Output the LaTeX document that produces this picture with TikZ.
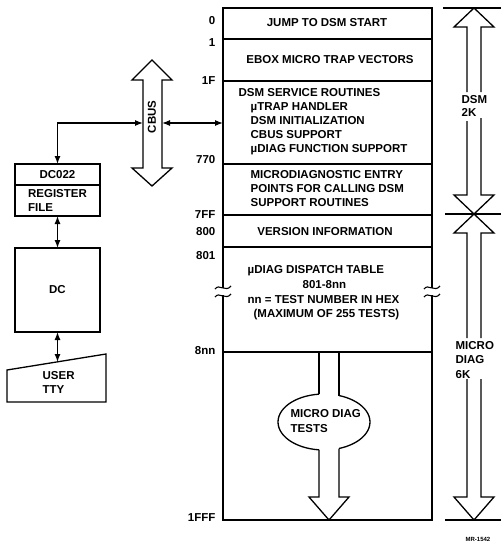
\documentclass[tikz,border=0pt]{standalone}
\usepackage{fontspec}
\setmainfont{Liberation Sans}
\usepackage{tikz}
\usetikzlibrary{arrows.meta,positioning}

\tikzset{
  txt/.style={font=\bfseries\fontsize{11.5}{14}\selectfont, inner sep=0pt},
  addr/.style={txt, anchor=east},
  box/.style={draw, line width=1.3pt, minimum width=85pt, inner sep=0pt, outer sep=0pt, txt},
  conn/.style={line width=1.2pt, {Latex[length=8pt,width=6pt]}-{Latex[length=8pt,width=6pt]}},
}

\begin{document}
\begin{tikzpicture}[x=1pt,y=-1pt,line width=1.3pt]
        \useasboundingbox (0,0) rectangle (501,542);
        \coordinate (m1) at (223,8);
        \coordinate (m2) at (432,8);
        \coordinate (m3) at (432,520);
        \coordinate (m4) at (223,520);
        \coordinate (corner) at (57.5,123);
        \coordinate (busL) at (143,123);
        \coordinate (busR) at (162,123);
        \coordinate (mapL) at (223,123);
        \coordinate (t1) at (7,370);
        \coordinate (t2) at (106,354);
        \coordinate (t3) at (106,402);
        \coordinate (t4) at (7,402);
        \coordinate (ttytop) at (57.5,362);
        %Memory map
        \draw (223,288) -- (m1) -- (m2) -- (432,288);
        \draw (223,295) -- (m4) -- (m3) -- (432,295);
        \foreach \y in {39,81,164,215,247,352}
          \draw (223,\y) -- (432,\y);
        \foreach \x in {223,432} {
          \draw[line width=1.1pt] (\x-8,289) .. controls (\x-4,283) and (\x+3,293) .. (\x+8,286);
          \draw[line width=1.1pt] (\x-8,297) .. controls (\x-4,291) and (\x+3,301) .. (\x+8,294);
        }
        %Addresses
        \node[addr] (a0) at (216,21) {0};
        \node[addr] (a1) at (216,43) {1};
        \node[addr] (a1f) at (216,81) {1F};
        \node[addr] (a770) at (216,160) {770};
        \node[addr] (a7ff) at (216,215) {7FF};
        \node[addr] (a800) at (216,232) {800};
        \node[addr] (a801) at (216,256) {801};
        \node[addr] (a8nn) at (216,351) {8nn};
        \node[addr] (a1fff) at (216,518) {1FFF};
        %Contents
        \node[txt] (jump) at (327,23) {JUMP TO DSM START};
        \node[txt] (ebox) at (330,60) {EBOX MICRO TRAP VECTORS};
        \node[txt, anchor=west, align=left] (dsmsvc) at (238,122) {DSM SERVICE ROUTINES\\
          \hspace*{12pt}µTRAP HANDLER\\\hspace*{12pt}DSM INITIALIZATION\\
          \hspace*{12pt}CBUS SUPPORT\\\hspace*{12pt}µDIAG FUNCTION SUPPORT};
        \node[txt, anchor=west, align=left] (entry) at (250,189) {MICRODIAGNOSTIC ENTRY\\
          POINTS FOR CALLING DSM\\SUPPORT ROUTINES};
        \node[txt] (version) at (325,232) {VERSION INFORMATION};
        \node[txt, font=\bfseries\fontsize{11.5}{14.7}\selectfont, anchor=west, align=left] (dispatch) at (247,293)
          {µDIAG DISPATCH TABLE\\\hspace*{55pt}801-8nn\\nn = TEST NUMBER IN HEX\\
          \hspace*{6pt}(MAXIMUM OF 255 TESTS)};
        %Tests arrow
        \draw (319,352) -- (319,394.2);
        \draw (339,352) -- (339,395.5);
        \draw (319,449.8) -- (319,497) -- (309,497) -- (329,520) -- (349,497) -- (339,497) -- (339,448.5);
        \begin{scope}
          \clip (250,380) rectangle (319,470) (339,380) rectangle (400,470);
          \draw (324,422) ellipse [x radius=46pt, y radius=28pt];
        \end{scope}
        \node[txt, font=\bfseries\fontsize{11.5}{15}\selectfont, anchor=west, align=left] (tests) at (290,421) {MICRO DIAG\\TESTS};
        %Size arrows
        \draw (443,8) -- (501,8);
        \draw (467,92) -- (467,27) -- (454,27) -- (474,8) -- (494,27) -- (481,27) -- (481,92);
        \draw (467,121) -- (467,195) -- (454,195) -- (474,214) -- (494,195) -- (481,195) -- (481,118);
        \draw (445,214) -- (501,214);
        \draw (467,338) -- (467,233) -- (454,233) -- (474,214) -- (494,233) -- (481,233) -- (481,338);
        \draw (467,379) -- (467,497) -- (454,497) -- (474,520) -- (494,497) -- (481,497) -- (481,379);
        \draw (445,520) -- (501,520);
        \node[txt, font=\bfseries\fontsize{11.5}{13}\selectfont, anchor=west, align=left] (dsmsize) at (461,106) {DSM\\2K};
        \node[txt, font=\bfseries\fontsize{11.5}{14.5}\selectfont, anchor=west, align=left] (diagsize) at (455,360) {MICRO\\DIAG\\6K};
        %CBUS
        \draw (152,60) -- (172,80) -- (162,80) -- (162,168) -- (172,168) -- (152,186)
          -- (132,168) -- (143,168) -- (143,80) -- (132,80) -- cycle;
        \node[txt, rotate=90] (cbus) at (152,117) {CBUS};
        %Left boxes
        \node[box, minimum height=21pt] (dc022) at (57.5,174.5) {DC022};
        \node[box, minimum height=31pt, align=left, below=0pt of dc022] (regfile) {REGISTER\\FILE};
        \node[box, minimum height=84pt] (dc) at (57.5,290) {DC};
        \draw (t1) -- (t2) -- (t3) -- (t4) -- cycle;
        \node[txt, anchor=west, align=left] (tty) at (42,382) {USER\\TTY};
        %Connectors
        \draw[conn] (busL) -- (corner) -- (dc022.north);
        \draw[conn] (busR) -- (mapL);
        \draw[conn] (regfile) -- (dc);
        \draw[conn] (dc) -- (ttytop);
        \node[font=\bfseries\fontsize{6}{7}\selectfont, anchor=west, inner sep=0pt] (mr) at (465,539) {MR-1542};
      \end{tikzpicture}
\end{document}
